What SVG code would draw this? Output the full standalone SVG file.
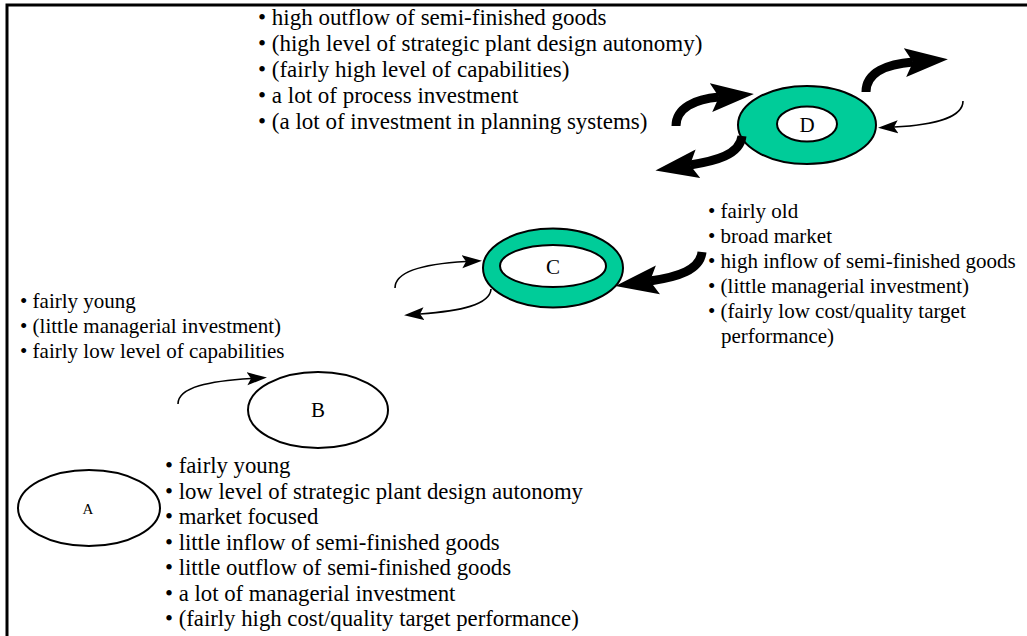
<svg xmlns="http://www.w3.org/2000/svg" width="1027" height="636" viewBox="0 0 1027 636">
<style>
  .t { font-family: "Liberation Serif", "Times New Roman", serif; font-size: 21px; fill: #000; }
  .big { font-size: 23px; }
  .mid { font-size: 22.75px; }
  .lbl { font-family: "Liberation Serif", "Times New Roman", serif; font-size: 21px; fill: #000; text-anchor: middle; }
  .ring { fill: #00CC99; stroke: #000; stroke-width: 2; }
  .hole { fill: #fff; stroke: #000; stroke-width: 2; }
  .plain { fill: #fff; stroke: #000; stroke-width: 2; }
  .thin { fill: none; stroke: #000; stroke-width: 1.6; marker-end: url(#hs); }
  .thick { fill: none; stroke: #000; stroke-width: 9; marker-end: url(#hl); }
</style>
<defs>
  <marker id="hs" markerUnits="userSpaceOnUse" viewBox="0 -7 22 14" markerWidth="22" markerHeight="14" refX="4" refY="0" orient="auto">
    <path d="M0,-6.5 L20,0 L0,6.5 L4,0 Z" fill="#000"/>
  </marker>
  <marker id="hl" markerUnits="userSpaceOnUse" viewBox="0 -16 46 32" markerWidth="46" markerHeight="32" refX="8" refY="0" orient="auto">
    <path d="M0,-14.5 L43,0 L0,14.5 L8,0 Z" fill="#000"/>
  </marker>
</defs>
<rect width="1027" height="636" fill="#fff"/>
<path d="M7,636 L7,5 L1027,5" fill="none" stroke="#000" stroke-width="3"/>

<g id="D">
  <ellipse class="ring" cx="807" cy="125" rx="69" ry="39"/>
  <ellipse class="hole" cx="807" cy="124" rx="30" ry="17.5"/>
  <text class="lbl" x="807" y="132">D</text>
</g>
<g id="D-list">
  <text class="t big" x="258" y="25">• high outflow of semi-finished goods</text>
  <text class="t big" x="258" y="51">• (high level of strategic plant design autonomy)</text>
  <text class="t big" x="258" y="77">• (fairly high level of capabilities)</text>
  <text class="t big" x="258" y="103">• a lot of process investment</text>
  <text class="t big" x="258" y="129">• (a lot of investment in planning systems)</text>
</g>

<g id="C">
  <ellipse class="ring" cx="553" cy="268" rx="70" ry="39.5"/>
  <ellipse class="hole" cx="553" cy="266" rx="53" ry="21"/>
  <text class="lbl" x="553" y="274">C</text>
</g>
<g id="C-list">
  <text class="t" x="708" y="218">• fairly old</text>
  <text class="t" x="708" y="243">• broad market</text>
  <text class="t" x="708" y="268">• high inflow of semi-finished goods</text>
  <text class="t" x="708" y="293">• (little managerial investment)</text>
  <text class="t" x="708" y="318">• (fairly low cost/quality target</text>
  <text class="t" x="721" y="343">performance)</text>
</g>

<g id="B">
  <ellipse class="plain" cx="318" cy="410" rx="70" ry="38"/>
  <text class="lbl" x="318" y="417">B</text>
</g>
<g id="B-list">
  <text class="t" x="20" y="308">• fairly young</text>
  <text class="t" x="20" y="333">• (little managerial investment)</text>
  <text class="t" x="20" y="358">• fairly low level of capabilities</text>
</g>

<g id="A">
  <ellipse class="plain" cx="89" cy="508" rx="71" ry="38"/>
  <text class="lbl" x="88" y="514" style="font-size:15px">A</text>
</g>
<g id="A-list">
  <text class="t mid" x="165" y="473">• fairly young</text>
  <text class="t mid" x="165" y="499">• low level of strategic plant design autonomy</text>
  <text class="t mid" x="165" y="524">• market focused</text>
  <text class="t mid" x="165" y="550">• little inflow of semi-finished goods</text>
  <text class="t mid" x="165" y="575">• little outflow of semi-finished goods</text>
  <text class="t mid" x="165" y="601">• a lot of managerial investment</text>
  <text class="t mid" x="165" y="626">• (fairly high cost/quality target performance)</text>
</g>

<g id="connectors">
  <path class="thick" d="M676,126 C676,108 695,99 719,97"/>
  <path class="thick" d="M742,136 C740,155 715,161 690,165"/>
  <path class="thick" d="M866,92 C866,72 888,64 913,62"/>
  <path class="thick" d="M702,252 C700,270 678,277 650,281"/>
  <path class="thin" d="M963,101 C963,117 935,125 894,127"/>
  <path class="thin" d="M395,288 C395,272 420,264 466,261.5"/>
  <path class="thin" d="M491,289 C490,305 460,311 420,314"/>
  <path class="thin" d="M178,404 C178,387 210,381 251,378.5"/>
</g>
</svg>
